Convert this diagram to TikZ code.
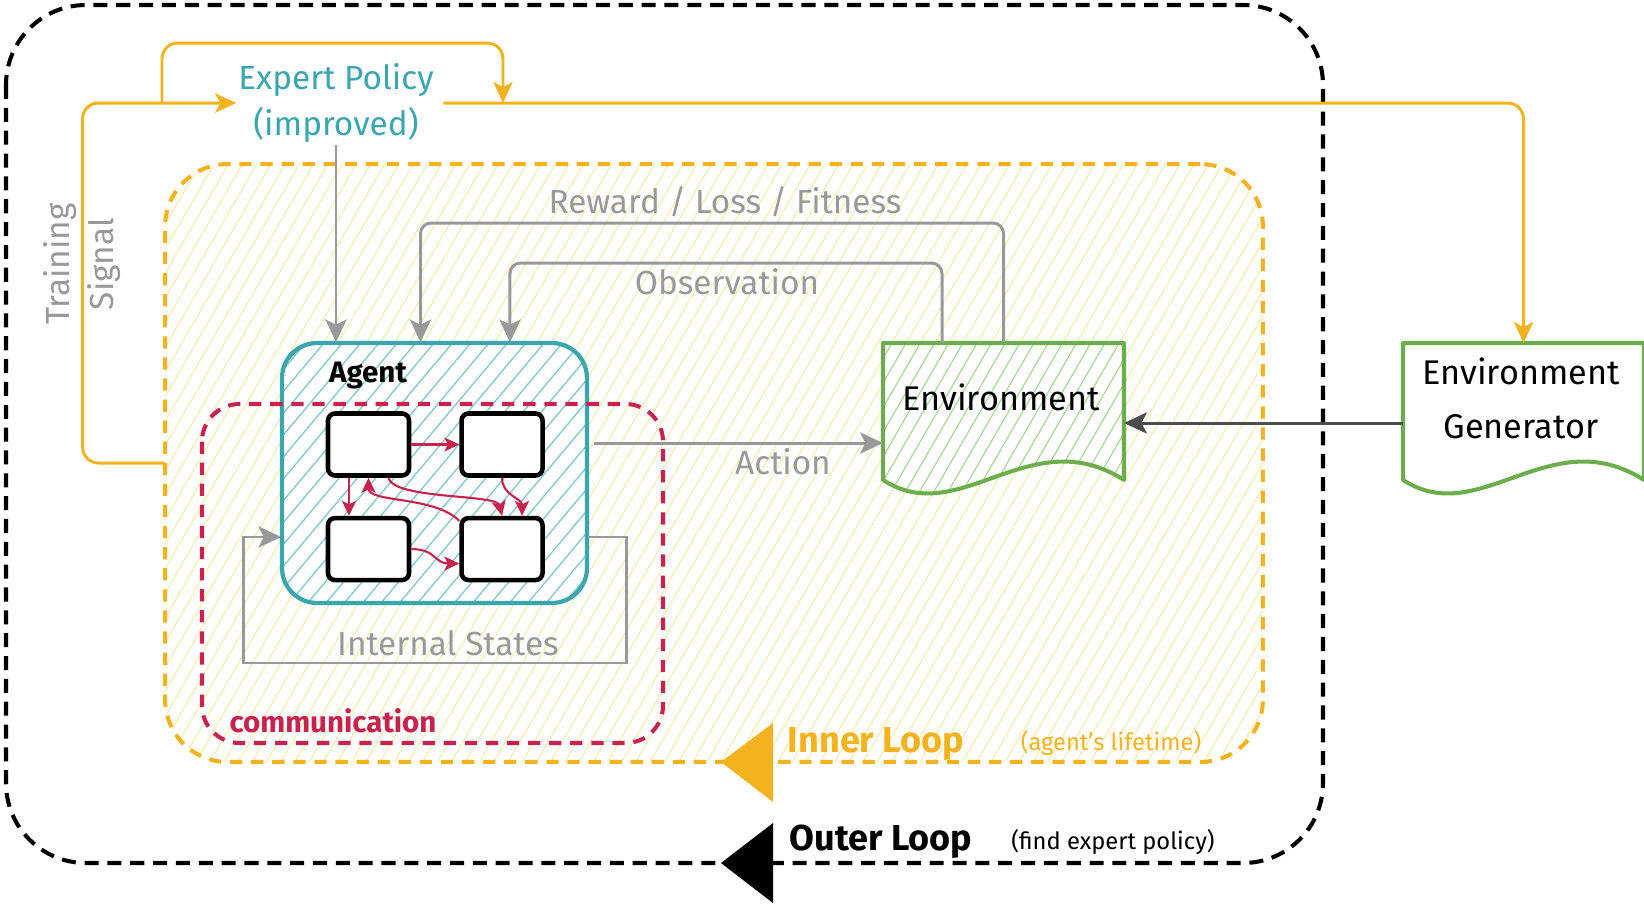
\documentclass[tikz,border=0pt]{standalone}
\usepackage{fontspec}
\setmainfont{Fira Sans}
\usetikzlibrary{positioning, arrows.meta, patterns.meta}

\definecolor{loopyellow}{HTML}{F5B21F}
\definecolor{hatchyellow}{HTML}{F7EAA8}
\definecolor{agentteal}{HTML}{3AA6B0}
\definecolor{hatchteal}{HTML}{86CBCD}
\definecolor{commred}{HTML}{C8234F}
\definecolor{envgreen}{HTML}{6BAE4B}
\definecolor{hatchgreen}{HTML}{A9D897}
\definecolor{flowgray}{HTML}{999999}
\definecolor{feedgray}{HTML}{4D4D4D}

\begin{document}
\begin{tikzpicture}[
    x=0.02cm, y=-0.02cm,
    lbl/.style={font=\fontsize{19}{23}\selectfont, text=flowgray, inner sep=1pt},
    boldlbl/.style={font=\fontsize{20.5}{24}\selectfont\bfseries, inner sep=1pt},
    smalllbl/.style={font=\fontsize{13.5}{16}\selectfont, inner sep=1pt},
    outerbox/.style={draw=black, line width=2.3pt, dash pattern=on 8pt off 5pt,
      rounded corners=1.6cm},
    innerbox/.style={draw=loopyellow, line width=2.3pt, dash pattern=on 7pt off 5pt,
      rounded corners=1.25cm, minimum width=21.96cm, minimum height=11.96cm,
      pattern={Lines[angle=60, distance=7pt, line width=0.6pt]},
      pattern color=hatchyellow},
    commbox/.style={draw=commred, line width=2.3pt, dash pattern=on 7pt off 5pt,
      rounded corners=0.75cm},
    agentbox/.style={draw=agentteal, line width=2.4pt, rounded corners=0.7cm,
      minimum width=6.1cm, minimum height=5.2cm,
      preaction={fill=white},
      pattern={Lines[angle=50, distance=8pt, line width=0.8pt]},
      pattern color=hatchteal},
    cell/.style={draw=black, line width=2.6pt, fill=white, rounded corners=4pt,
      minimum width=1.62cm, minimum height=1.24cm},
    docframe/.style={minimum width=4.82cm, minimum height=2.74cm,
      inner sep=0pt, outer sep=0pt},
    doc/.style={draw=envgreen, line width=2.3pt, line join=round},
    flow/.style={-{Stealth[length=13pt, width=12pt, inset=3pt]},
      line width=1.7pt, draw=flowgray, rounded corners=6pt},
    feed/.style={flow, draw=feedgray},
    sig/.style={-{Stealth[length=12pt, width=11pt, inset=3pt]},
      line width=1.7pt, draw=loopyellow, rounded corners=9pt},
    comm/.style={-{Stealth[length=8.5pt, width=8pt, inset=2pt]},
      line width=1.2pt, draw=commred},
]
\useasboundingbox (0,0) rectangle (1644,904);

% Outer loop
\draw[outerbox] (6,5) rectangle (1323,863);
\fill[black] (721,863) -- (773,823) -- (773,903) -- cycle;
\node[boldlbl] (outerlbl) at (881,842) {Outer Loop};
\node[smalllbl] (outernote) at (1113,842) {(find expert policy)};

% Inner loop
\node[innerbox] (inner) at (714,463) {};
\fill[loopyellow] (721,762) -- (773,723) -- (773,802) -- cycle;
\node[boldlbl, text=loopyellow] (innerlbl) at (876,744) {Inner Loop};
\node[smalllbl, text=loopyellow] (innernote) at (1111,743) {(agent's lifetime)};

% Agent and its internal states
\node[agentbox] (agent) at (434.5,473) {};
\node[boldlbl, font=\fontsize{16.8}{20}\selectfont\bfseries] (agentlbl) at (368,376) {Agent};
\node[cell] (s1) at (368.5,444.5) {};
\node[cell, right=0.96cm of s1] (s2) {};
\node[cell, below=0.76cm of s1] (s3) {};
\node[cell, below=0.76cm of s2] (s4) {};

\draw[comm] (s1.east) -- (s2.west);
\draw[comm] ([xshift=-0.39cm]s1.south) -- ([xshift=-0.39cm]s1.south |- s3.north);
\draw[comm] ([yshift=-0.1cm]s4.north west) .. controls +(-25,-25) and +(0,25) .. (s1.south);
\draw[comm] ([xshift=0.4cm]s1.south) .. controls +(5,22) and +(-5,-22) .. (s4.north);
\draw[comm] (s2.south) .. controls +(0,18) and +(0,-18) .. ([xshift=0.4cm]s4.north);
\draw[comm] (s3.east) .. controls +(25,0) and +(-25,0) .. ([yshift=-0.29cm]s4.west);

% Communication
\draw[commbox] (202,404) rectangle (663,743);
\node[boldlbl, font=\fontsize{16.8}{20}\selectfont\bfseries, text=commred]
    (commlbl) at (333,721) {communication};

% Internal states loop
\draw[flow, rounded corners=0pt] ([yshift=-1.28cm]agent.east) -- ++(39,0) -- ++(0,126)
    -- ++(-383,0) -- ++(0,-126) -- ([yshift=-1.28cm]agent.west);
\node[lbl] (statelbl) at (448,643) {Internal States};

% Environment
\node[docframe] (env) at (1003.5,411.5) {};
\draw[doc, preaction={fill=white},
      pattern={Lines[angle=60, distance=7pt, line width=0.7pt]}, pattern color=hatchgreen]
    (env.south west) -- (env.north west) -- (env.north east) -- (env.south east)
    .. controls +(-94,-60) and +(77,50) .. (env.south west) -- cycle;
\node[lbl, text=black, font=\fontsize{19.5}{23}\selectfont] (envlbl) at (1001,397) {Environment};

% Environment generator
\node[docframe] (gen) at (1523.5,411.5) {};
\draw[doc, fill=white]
    (gen.south west) -- (gen.north west) -- (gen.north east) -- (gen.south east)
    .. controls +(-94,-60) and +(77,50) .. (gen.south west) -- cycle;
\node[lbl, text=black, align=center, font=\fontsize{19.5}{30.6}\selectfont]
    (genlbl) at (1521,398) {Environment\\Generator};

% Agent <-> environment
\coordinate (actfrom) at ([xshift=0.12cm, yshift=0.6cm]agent.east);
\draw[flow] (actfrom) -- (actfrom -| env.west);
\node[lbl] (actlbl) at (783,462) {Action};

\draw[flow] ([xshift=-1.23cm]env.north) -- ++(0,-80) -| ([xshift=1.51cm]agent.north);
\node[lbl] (obslbl) at (727,282) {Observation};

\draw[flow] (env.north) -- ++(0,-120) -| ([xshift=-0.28cm]agent.north);
\node[lbl] (rewlbl) at (725,202) {Reward / Loss / Fitness};

\coordinate (genout) at ([yshift=-0.23cm]gen.west);
\draw[feed] (genout) -- (genout -| env.east);

% Expert policy and training signal
\node[lbl, text=agentteal, align=center, font=\fontsize{19}{26.6}\selectfont]
    (ep) at (336,103) {Expert Policy\\(improved)};
\draw[flow] (ep.south) -- (ep.south |- agent.north);

\draw[sig] (inner.west) -- ++(-82,0) |- (ep.west);
\coordinate (fork) at (162,103);
\coordinate (join) at (503,103);
\draw[sig] (fork) -- ++(0,-60) -| (join);
\draw[sig] ([xshift=0.15cm]ep.east) -| (gen.north);
\node[lbl, rotate=90, align=center, font=\fontsize{19}{25.5}\selectfont]
    (siglbl) at (82,264) {Training\\Signal};

\end{tikzpicture}
\end{document}
